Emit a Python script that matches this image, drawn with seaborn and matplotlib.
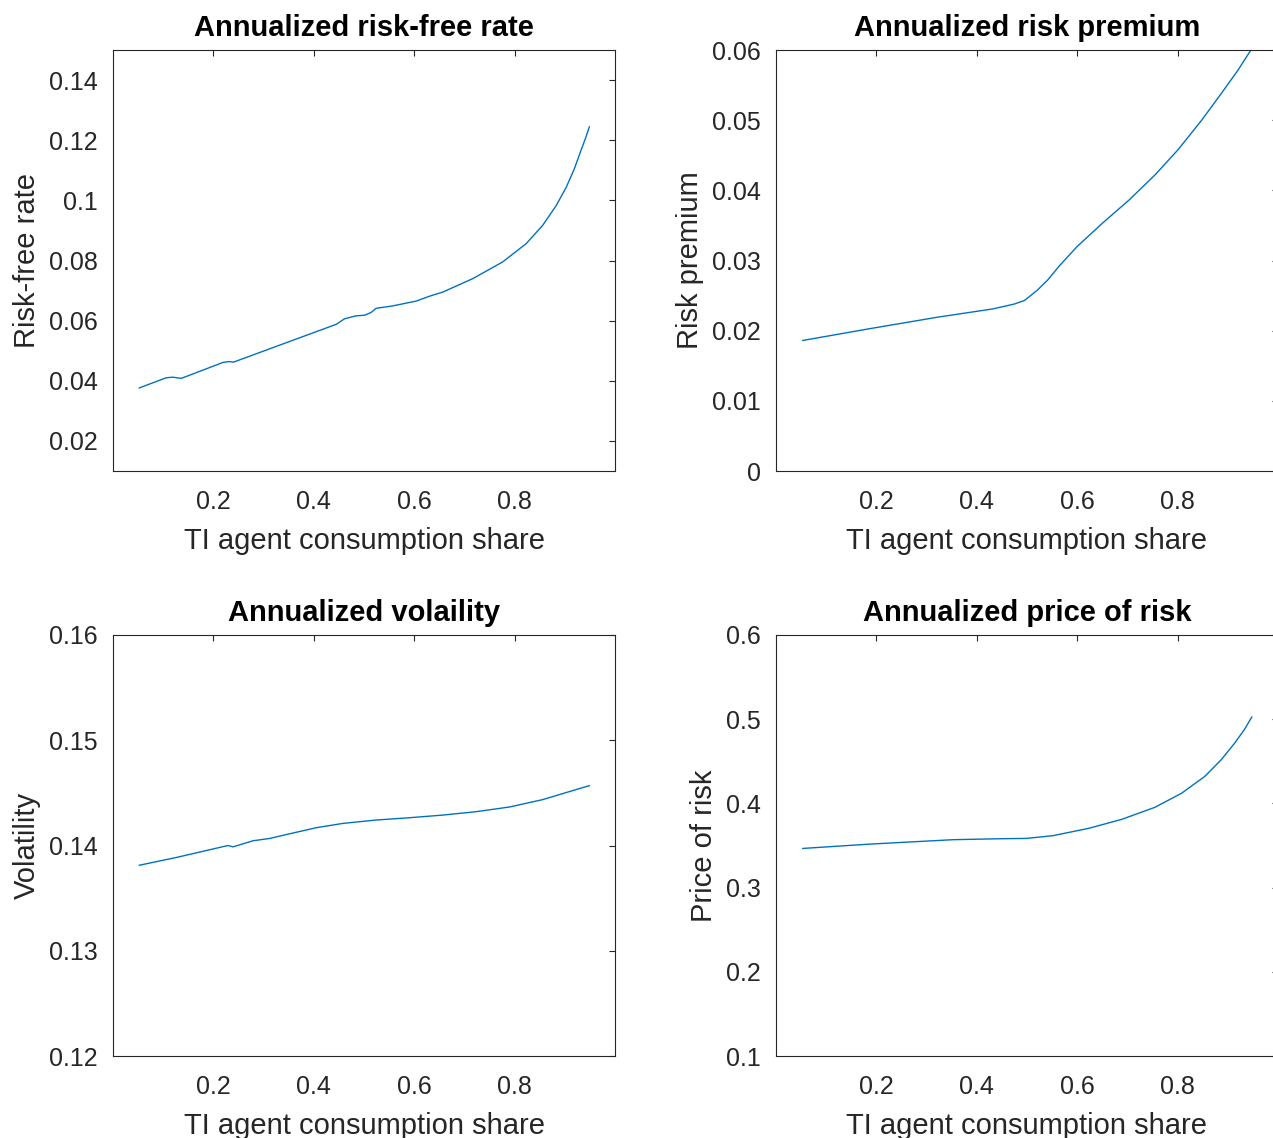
import numpy as np
import pandas as pd
import matplotlib
matplotlib.use("Agg")
import matplotlib.pyplot as plt
import seaborn as sns

sns.set_style("white")
plt.rcParams["font.family"] = ["Liberation Sans", "DejaVu Sans"]

# values
share_rf = [0.052, 0.106, 0.119, 0.136, 0.219, 0.231, 0.240, 0.445, 0.461, 0.484, 0.501,
            0.514, 0.524, 0.557, 0.604, 0.630, 0.657, 0.717, 0.776, 0.823, 0.856, 0.883,
            0.903, 0.919, 0.932, 0.942, 0.949]
risk_free = [0.0376, 0.0410, 0.0412, 0.0408, 0.0461, 0.0464, 0.0462, 0.0588, 0.0606, 0.0616,
             0.0618, 0.0627, 0.0641, 0.0649, 0.0665, 0.0681, 0.0695, 0.0740, 0.0795, 0.0856,
             0.0917, 0.0983, 0.1044, 0.1105, 0.1165, 0.1210, 0.1245]

share_rp = [0.053, 0.188, 0.320, 0.432, 0.475, 0.495, 0.521, 0.541, 0.564, 0.600, 0.650,
            0.703, 0.755, 0.801, 0.848, 0.887, 0.920, 0.947]
risk_prem = [0.0186, 0.0203, 0.0219, 0.0231, 0.0238, 0.0243, 0.0258, 0.0272, 0.0292, 0.0320,
             0.0353, 0.0386, 0.0422, 0.0458, 0.0500, 0.0538, 0.0571, 0.0601]

share_vol = [0.052, 0.126, 0.229, 0.239, 0.279, 0.312, 0.358, 0.405, 0.458, 0.524, 0.591,
             0.657, 0.723, 0.790, 0.856, 0.909, 0.949]
volatility = [0.13812, 0.13886, 0.14000, 0.13987, 0.14045, 0.14067, 0.14118, 0.14169, 0.14210,
              0.14242, 0.14264, 0.14289, 0.14321, 0.14366, 0.14436, 0.14512, 0.14569]

share_pr = [0.053, 0.188, 0.353, 0.452, 0.498, 0.551, 0.597, 0.623, 0.689, 0.755, 0.808,
            0.854, 0.887, 0.914, 0.933, 0.948]
price_risk = [0.3465, 0.3517, 0.3569, 0.3581, 0.3584, 0.3616, 0.3672, 0.3704, 0.3811, 0.3954,
              0.4121, 0.4320, 0.4519, 0.4718, 0.4877, 0.5028]

x_ticks = [0.2, 0.4, 0.6, 0.8]
x_ticklabels = ["0.2", "0.4", "0.6", "0.8"]

panels = [
    dict(x=share_rf, y=risk_free, title="Annualized risk-free rate", ylabel="Risk-free rate",
         ylim=(0.01, 0.15), yticks=[0.02, 0.04, 0.06, 0.08, 0.10, 0.12, 0.14],
         yticklabels=["0.02", "0.04", "0.06", "0.08", "0.1", "0.12", "0.14"]),
    dict(x=share_rp, y=risk_prem, title="Annualized risk premium", ylabel="Risk premium",
         ylim=(0, 0.06), yticks=[0, 0.01, 0.02, 0.03, 0.04, 0.05, 0.06],
         yticklabels=["0", "0.01", "0.02", "0.03", "0.04", "0.05", "0.06"]),
    dict(x=share_vol, y=volatility, title="Annualized volaility", ylabel="Volatility",
         ylim=(0.12, 0.16), yticks=[0.12, 0.13, 0.14, 0.15, 0.16],
         yticklabels=["0.12", "0.13", "0.14", "0.15", "0.16"]),
    dict(x=share_pr, y=price_risk, title="Annualized price of risk", ylabel="Price of risk",
         ylim=(0.1, 0.6), yticks=[0.1, 0.2, 0.3, 0.4, 0.5, 0.6],
         yticklabels=["0.1", "0.2", "0.3", "0.4", "0.5", "0.6"]),
]

W, H = 1273, 1138
fig = plt.figure(figsize=(W / 100, H / 100), dpi=100)

# axes boxes in pixels: left, top
boxes = [(113, 50), (776, 50), (113, 635), (776, 635)]
aw, ah = 502, 421

line_col = "#0072BD"
dark = "#262626"

for (px, py), p in zip(boxes, panels):
    ax = fig.add_axes([px / W, 1 - (py + ah) / H, aw / W, ah / H])
    df = pd.DataFrame({"share": p["x"], "val": p["y"]})
    sns.lineplot(data=df, x="share", y="val", ax=ax, color=line_col, linewidth=1.0)
    ax.set_xlim(0, 1)
    ax.set_ylim(*p["ylim"])
    ax.set_xticks(x_ticks)
    ax.set_xticklabels(x_ticklabels)
    ax.set_yticks(p["yticks"])
    ax.set_yticklabels(p["yticklabels"])
    ax.tick_params(direction="in", length=4, width=0.8, colors=dark, labelsize=18,
                   top=True, right=True)
    ax.tick_params(axis="x", pad=14)
    ax.tick_params(axis="y", pad=11)
    for s in ax.spines.values():
        s.set_color(dark)
        s.set_linewidth(0.8)
    ax.set_title(p["title"], fontsize=21, fontweight="bold", pad=10, color="black")
    ax.set_xlabel("TI agent consumption share", fontsize=21, color=dark, labelpad=9)
    ax.set_ylabel(p["ylabel"], fontsize=21, color=dark, labelpad=6)

fig.savefig("out.png", dpi=100, facecolor="white")
